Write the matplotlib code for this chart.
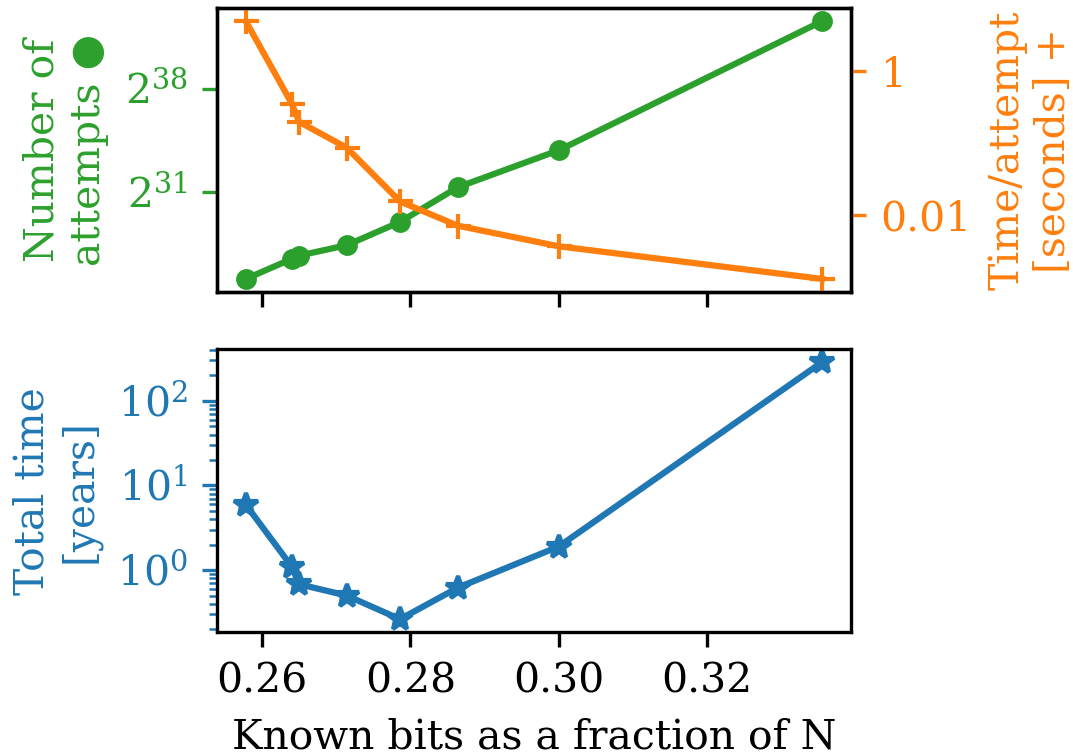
import matplotlib
matplotlib.use('Agg')
import matplotlib.pyplot as plt
from matplotlib.ticker import NullLocator

# Data
known_fraction = [0.2578, 0.2640, 0.2650, 0.2714, 0.2786, 0.2864, 0.3000, 0.3355]
num_attempts = [3.67e7, 9.42e7, 1.098e8, 1.784e8, 5.33e8, 2.719e9, 1.538e10, 6.575e12]
time_per_attempt = [4.93, 0.353, 0.196, 0.0857, 0.0153, 0.00704, 0.00364, 0.00128]
total_years = [5.93, 1.10, 0.68, 0.50, 0.263, 0.62, 1.90, 287.0]

left_ticks = [2**31, 2**38]
left_ticklabels = ['$2^{31}$', '$2^{38}$']
right_ticks = [0.01, 1]
right_ticklabels = ['0.01', '1']
x_ticks = [0.26, 0.28, 0.30, 0.32]
x_ticklabels = ['0.26', '0.28', '0.30', '0.32']

green = '#2ca02c'
orange = '#ff7f0e'
blue = '#1f77b4'

plt.rcParams['font.family'] = ['DejaVu Serif', 'DejaVu Sans']
plt.rcParams['mathtext.fontset'] = 'dejavuserif'
plt.rcParams['font.size'] = 9.8

DPI = 300
fig = plt.figure(figsize=(1073 / DPI, 756 / DPI), dpi=DPI)
ax1 = fig.add_axes([0.2022, 0.614, 0.5908, 0.375])
ax3 = fig.add_axes([0.2022, 0.164, 0.5908, 0.374], sharex=ax1)
ax2 = ax1.twinx()

# Top: number of attempts (left, log2)
ax1.plot(known_fraction, num_attempts, 'o-', color=green, ms=4, lw=1.5)
ax1.set_yscale('log', base=2)
ax1.set_yticks(left_ticks)
ax1.set_yticklabels(left_ticklabels)
ax1.yaxis.set_minor_locator(NullLocator())
ax1.tick_params(axis='y', colors=green)
ax1.tick_params(axis='x', labelbottom=False)
ax1.set_ylabel('Number of\nattempts ●', color=green)

# Top: time per attempt (right, log10)
ax2.plot(known_fraction, time_per_attempt, '+-', color=orange, ms=6, lw=1.5)
ax2.set_yscale('log')
ax2.set_yticks(right_ticks)
ax2.set_yticklabels(right_ticklabels)
ax2.yaxis.set_minor_locator(NullLocator())
ax2.tick_params(axis='y', colors=orange)
ax2.set_ylabel('Time/attempt\n[seconds] +', color=orange)

# Bottom: total time
ax3.plot(known_fraction, total_years, '*-', color=blue, ms=6, lw=1.5)
ax3.set_yscale('log')
ax3.tick_params(axis='y', which='both', colors=blue)
ax3.set_ylabel('Total time\n[years]', color=blue)
ax3.set_xticks(x_ticks)
ax3.set_xticklabels(x_ticklabels)
ax3.set_xlabel('Known bits as a fraction of N')

fig.savefig('out.png', dpi=DPI)
